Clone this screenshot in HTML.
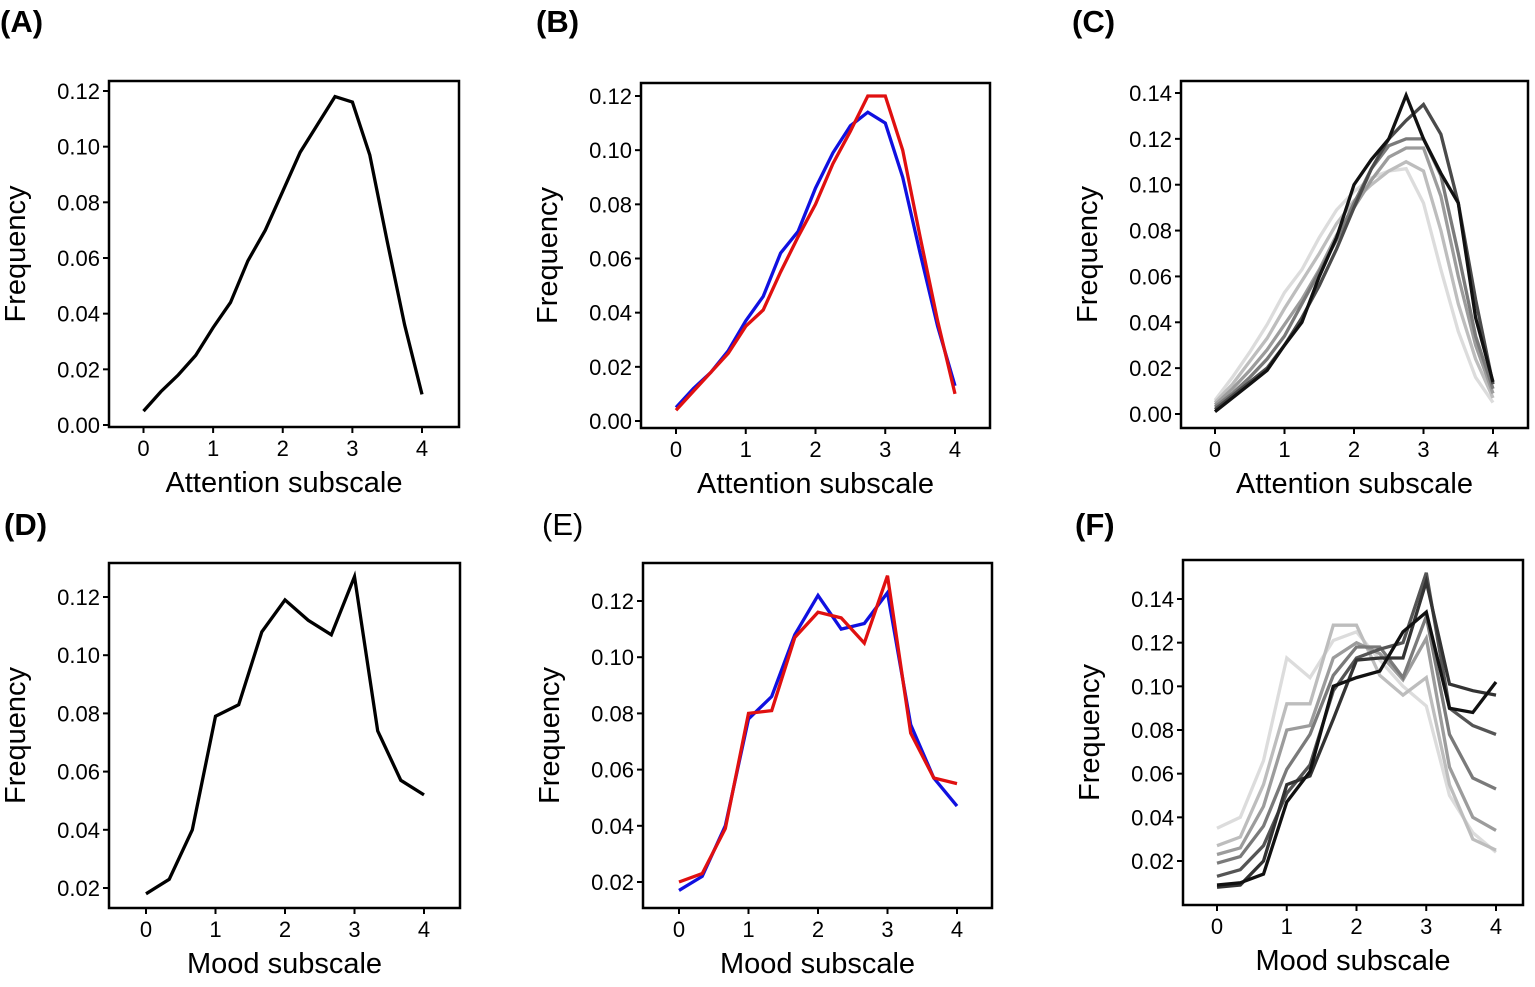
<!DOCTYPE html>
<html><head><meta charset="utf-8"><style>
body{margin:0;background:#fff;}
svg{display:block;font-family:"Liberation Sans",Arial,sans-serif;}
</style></head><body>
<svg id="fig" width="1535" height="987" viewBox="0 0 1535 987" xmlns="http://www.w3.org/2000/svg"></svg>
<script>
const attX17 = [0,0.25,0.5,0.75,1,1.25,1.5,1.75,2,2.25,2.5,2.75,3,3.25,3.5,3.75,4];
const moodX13 = [0,1/3,2/3,1,4/3,5/3,2,7/3,8/3,3,10/3,11/3,4];
const xTicks = [0,1,2,3,4];
const yTicksA = ["0.00","0.02","0.04","0.06","0.08","0.10","0.12"];
const yTicksC = ["0.00","0.02","0.04","0.06","0.08","0.10","0.12","0.14"];
const yTicksD = ["0.02","0.04","0.06","0.08","0.10","0.12"];
const yTicksF = ["0.02","0.04","0.06","0.08","0.10","0.12","0.14"];

const seriesA = [0.005,0.012,0.018,0.025,0.035,0.044,0.059,0.070,0.084,0.098,0.108,0.118,0.116,0.097,0.066,0.036,0.011];
const seriesBblue = [0.005,0.012,0.018,0.026,0.037,0.046,0.062,0.070,0.086,0.099,0.109,0.114,0.110,0.090,0.062,0.035,0.013];
const seriesBred = [0.004,0.011,0.018,0.025,0.035,0.041,0.055,0.068,0.080,0.095,0.107,0.120,0.120,0.100,0.068,0.037,0.010];
const seriesC1 = [0.006,0.016,0.027,0.039,0.053,0.063,0.077,0.089,0.097,0.103,0.106,0.107,0.092,0.063,0.036,0.016,0.005];
const seriesC2 = [0.005,0.013,0.023,0.033,0.046,0.058,0.070,0.083,0.093,0.100,0.106,0.110,0.106,0.080,0.048,0.024,0.007];
const seriesC3 = [0.004,0.011,0.019,0.028,0.039,0.050,0.063,0.078,0.090,0.102,0.112,0.116,0.116,0.095,0.060,0.030,0.009];
const seriesC4 = [0.003,0.009,0.016,0.024,0.034,0.048,0.062,0.076,0.092,0.107,0.117,0.120,0.120,0.104,0.070,0.034,0.011];
const seriesC5 = [0.002,0.008,0.014,0.020,0.030,0.042,0.056,0.072,0.090,0.107,0.120,0.128,0.135,0.122,0.092,0.050,0.013];
const seriesC6 = [0.001,0.007,0.013,0.019,0.030,0.040,0.060,0.077,0.100,0.111,0.120,0.139,0.120,0.105,0.092,0.042,0.014];
const seriesD = [0.018,0.023,0.040,0.079,0.083,0.108,0.119,0.112,0.107,0.127,0.074,0.057,0.052];
const seriesEblue = [0.017,0.022,0.040,0.078,0.086,0.108,0.122,0.110,0.112,0.123,0.076,0.057,0.047];
const seriesEred = [0.020,0.023,0.039,0.080,0.081,0.107,0.116,0.114,0.105,0.129,0.073,0.057,0.055];
const seriesF1 = [0.035,0.040,0.066,0.113,0.104,0.121,0.125,0.112,0.100,0.091,0.050,0.033,0.024];
const seriesF2 = [0.027,0.031,0.055,0.092,0.092,0.128,0.128,0.105,0.096,0.104,0.055,0.030,0.025];
const seriesF3 = [0.023,0.026,0.045,0.080,0.082,0.113,0.120,0.115,0.103,0.122,0.063,0.040,0.034];
const seriesF4 = [0.019,0.022,0.036,0.062,0.078,0.105,0.118,0.118,0.104,0.132,0.078,0.058,0.053];
const seriesF5 = [0.013,0.016,0.027,0.051,0.064,0.098,0.113,0.117,0.120,0.152,0.090,0.082,0.078];
const seriesF6 = [0.008,0.009,0.020,0.055,0.059,0.085,0.112,0.113,0.113,0.148,0.101,0.098,0.096];
const seriesF7 = [0.009,0.010,0.014,0.047,0.061,0.100,0.104,0.107,0.125,0.134,0.090,0.088,0.102];

const NS="http://www.w3.org/2000/svg";
const svg=document.getElementById('fig');
function mk(tag,attrs,parent){const e=document.createElementNS(NS,tag);for(const k in attrs)e.setAttribute(k,attrs[k]);(parent||svg).appendChild(e);return e;}

function panel(cfg){
  const g=mk('g',{});
  
  
  const sx=v=>cfg.x0+(cfg.x4-cfg.x0)*v/4;
  const ylo=parseFloat(cfg.yt[0]), yhi=parseFloat(cfg.yt[cfg.yt.length-1]);
  const sy=v=>cfg.yb+(cfg.ytop-cfg.yb)*(v-ylo)/(yhi-ylo);
  const lab=mk('text',{x:cfg.lx,y:cfg.ly,'font-size':31,'font-weight':cfg.bold?'bold':'normal',fill:'#000'},g);
  lab.textContent='('+cfg.id+')';
  
  
  cfg.series.forEach((s,i)=>{
    const pts=s.v.map((v,j)=>sx(s.x[j]).toFixed(1)+','+sy(v).toFixed(1)).join(' ');
    const pl=mk('polyline',{points:pts,fill:'none',stroke:s.c,'stroke-width':3.3,'stroke-linejoin':'miter'},g);
    
    
  });
  const box=mk('rect',{x:cfg.bx,y:cfg.by,width:cfg.bw,height:cfg.bh,fill:'none',stroke:'#000','stroke-width':2.5},g);
  
  
  const bottom=cfg.by+cfg.bh;
  xTicks.forEach(t=>{
    const x=sx(t);
    const tl=mk('line',{x1:x,x2:x,y1:bottom,y2:bottom+6,stroke:'#000','stroke-width':2},g);
    
    
    const tx=mk('text',{x:x,y:bottom+29,'font-size':22,'text-anchor':'middle'},g);
    tx.textContent=t;
    
    
  });
  cfg.yt.forEach(t=>{
    const y=sy(parseFloat(t));
    const tl=mk('line',{x1:cfg.bx-6,x2:cfg.bx,y1:y,y2:y,stroke:'#000','stroke-width':2},g);
    
    
    const tx=mk('text',{x:cfg.bx-9,y:y+8,'font-size':22,'text-anchor':'end'},g);
    tx.textContent=t;
    
    
  });
  const xl=mk('text',{x:cfg.bx+cfg.bw/2,y:bottom+65,'font-size':29,'text-anchor':'middle'},g);
  xl.textContent=cfg.xlabel;
  
  
  const cy=cfg.by+cfg.bh/2;
  const yl=mk('text',{x:cfg.bx-84,y:cy,'font-size':29,'text-anchor':'middle',transform:'rotate(-90 '+(cfg.bx-84)+' '+cy+')'},g);
  yl.textContent='Frequency';
  
  
}
const gC=['#dcdcdc','#bdbdbd','#9c9c9c','#7a7a7a','#4a4a4a','#111'];
const gF=['#dcdcdc','#bdbdbd','#9c9c9c','#7a7a7a','#555','#333','#111'];
panel({id:'A',bold:true,lx:0,ly:32,bx:109,by:81,bw:350,bh:346,x0:143.5,x4:422,yb:425,ytop:91,yt:yTicksA,xlabel:'Attention subscale',
  series:[{x:attX17,v:seriesA,c:'#000'}]});
panel({id:'B',bold:true,lx:536,ly:32,bx:641,by:83,bw:349,bh:345,x0:676,x4:955,yb:421,ytop:96,yt:yTicksA,xlabel:'Attention subscale',
  series:[{x:attX17,v:seriesBblue,c:'#1010e0'},{x:attX17,v:seriesBred,c:'#e01010'}]});
panel({id:'C',bold:true,lx:1072,ly:32,bx:1181,by:81,bw:347,bh:347,x0:1215,x4:1493,yb:414,ytop:93,yt:yTicksC,xlabel:'Attention subscale',
  series:[seriesC1,seriesC2,seriesC3,seriesC4,seriesC5,seriesC6].map((v,i)=>({x:attX17,v:v,c:gC[i]}))});
panel({id:'D',bold:true,lx:4,ly:535,bx:109,by:563,bw:351,bh:345,x0:146,x4:424,yb:888,ytop:597,yt:yTicksD,xlabel:'Mood subscale',
  series:[{x:moodX13,v:seriesD,c:'#000'}]});
panel({id:'E',bold:false,lx:542,ly:535,bx:643,by:563,bw:349,bh:345,x0:679,x4:957,yb:882,ytop:601,yt:yTicksD,xlabel:'Mood subscale',
  series:[{x:moodX13,v:seriesEblue,c:'#1010e0'},{x:moodX13,v:seriesEred,c:'#e01010'}]});
panel({id:'F',bold:true,lx:1075,ly:535,bx:1183,by:560,bw:340,bh:345,x0:1217,x4:1496,yb:861,ytop:599,yt:yTicksF,xlabel:'Mood subscale',
  series:[seriesF1,seriesF2,seriesF3,seriesF4,seriesF5,seriesF6,seriesF7].map((v,i)=>({x:moodX13,v:v,c:gF[i]}))});
</script>
</body></html>
